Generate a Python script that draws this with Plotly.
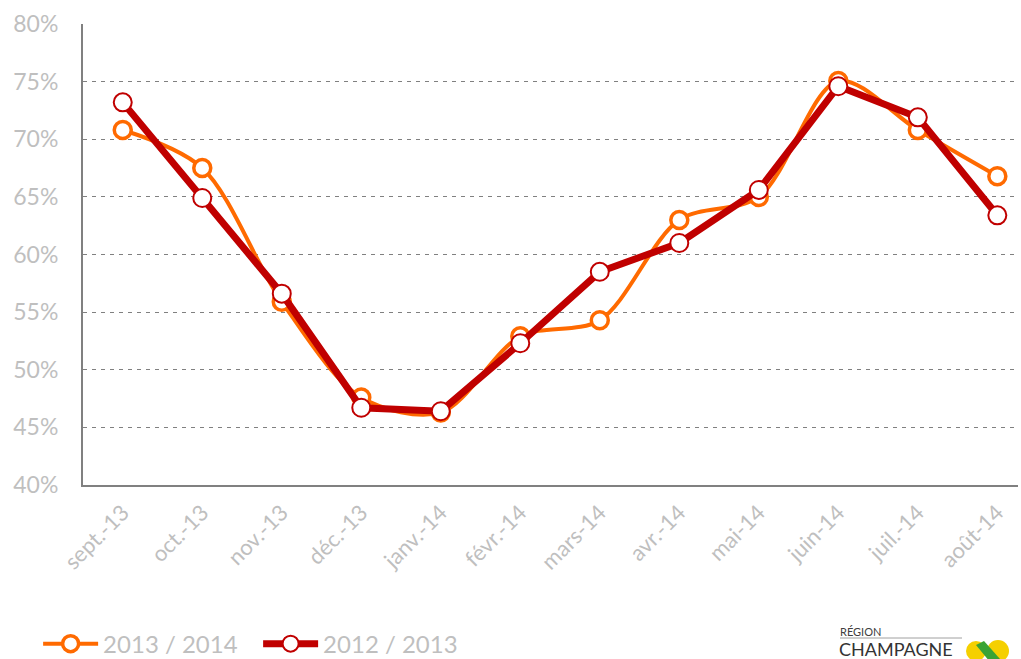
import plotly.graph_objects as go

months = ["sept.-13", "oct.-13", "nov.-13", "déc.-13", "janv.-14", "févr.-14",
          "mars-14", "avr.-14", "mai-14", "juin-14", "juil.-14", "août-14"]
s2013_2014 = [70.8, 67.5, 55.9, 47.6, 46.3, 52.9, 54.3, 63.0, 65.0, 75.05, 70.8, 66.8]
s2012_2013 = [73.2, 64.9, 56.6, 46.7, 46.4, 52.3, 58.5, 61.0, 65.6, 74.6, 71.9, 63.4]
y_ticks = [40, 45, 50, 55, 60, 65, 70, 75, 80]
y_labels = [f"{v}%" for v in y_ticks]

ORANGE = "#FF6A00"
RED = "#C00000"
GREY = "#BFBFBF"
FONT = "Lato"

fig = go.Figure()
fig.add_trace(go.Scatter(
    x=months, y=s2013_2014, name="2013 / 2014", mode="lines+markers",
    line=dict(color=ORANGE, width=4, shape="spline", smoothing=0.9),
    marker=dict(size=17, color="white", line=dict(color=ORANGE, width=3.5)),
))
fig.add_trace(go.Scatter(
    x=months, y=s2012_2013, name="2012 / 2013", mode="lines+markers",
    line=dict(color=RED, width=7),
    marker=dict(size=18, color="white", line=dict(color=RED, width=2)),
))

fig.update_layout(
    width=1021, height=659,
    margin=dict(l=83, r=3, t=24, b=174, autoexpand=False),
    paper_bgcolor="white", plot_bgcolor="white",
    font=dict(family=FONT, color=GREY),
    showlegend=True,
    legend=dict(orientation="h", x=-0.048, xanchor="left", y=-0.345, yanchor="middle",
                font=dict(size=24, color=GREY, family=FONT), itemwidth=55,
                tracegroupgap=0, entrywidth=150),
    xaxis=dict(
        type="category", range=[-0.5, 11.26], automargin=False,
        showline=True, linecolor="#808080", linewidth=2,
        showgrid=False, ticks="", tickangle=-45,
        tickfont=dict(size=22, color=GREY, family=FONT),
        ticklabelstandoff=4,
    ),
    yaxis=dict(
        range=[40, 80], tickvals=y_ticks, ticktext=y_labels, automargin=False,
        showline=True, linecolor="#808080", linewidth=2,
        showgrid=True, gridcolor="#808080", gridwidth=1, griddash="4px,5px",
        zeroline=False, ticks="",
        tickfont=dict(size=23, color=GREY, family=FONT),
        ticklabelstandoff=18,
    ),
)

def px(x):
    return (x - 83) / 935
def py(y):
    return (485 - y) / 461

# logo (text + simple shapes)
fig.add_annotation(text="RÉGION", xref="paper", yref="paper",
                   x=px(838), y=py(631), xanchor="left", yanchor="middle",
                   showarrow=False, font=dict(size=11, color="#404040", family=FONT))
fig.add_annotation(text="CHAMPAGNE", xref="paper", yref="paper",
                   x=px(837), y=py(649), xanchor="left", yanchor="middle",
                   showarrow=False, font=dict(size=18, color="#333333", family=FONT))
fig.add_shape(type="line", xref="paper", yref="paper",
              x0=px(840), x1=px(962), y0=py(638), y1=py(638),
              line=dict(color="#A0A0A0", width=1))
fig.add_shape(type="circle", xref="paper", yref="paper",
              x0=px(966), x1=px(986), y0=py(661), y1=py(641),
              fillcolor="#F5D000", line=dict(width=0))
fig.add_shape(type="circle", xref="paper", yref="paper",
              x0=px(987), x1=px(1009), y0=py(662), y1=py(640),
              fillcolor="#F5D000", line=dict(width=0))
fig.add_shape(type="path", xref="paper", yref="paper",
              path=f"M {px(976)} {py(645)} L {px(984)} {py(641)} L {px(1000)} {py(659)} L {px(990)} {py(662)} Z",
              fillcolor="#3AA335", line=dict(width=0))

fig.write_html("out.html", config={"displayModeBar": False},
               post_script="document.body.style.margin='0px';document.body.style.overflow='hidden';")
